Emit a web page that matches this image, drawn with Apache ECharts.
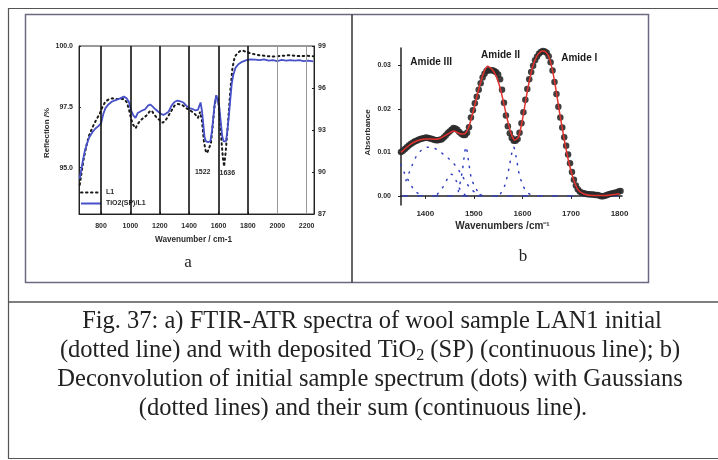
<!DOCTYPE html>
<html><head><meta charset="utf-8">
<script src="https://cdn.jsdelivr.net/npm/echarts@6/dist/echarts.min.js"></script>
<style>html,body{margin:0;padding:0;background:#fff}#c{width:718px;height:460px}</style>
</head><body><div id="c"></div>
<script>
// ---- panel a: FTIR-ATR reflection spectra (wavenumber, reflection %) ----
const aL1 = [[655,94.3],[665,94.7],[680,95.3],[700,95.9],[720,96.35],[745,96.7],[770,97.0],[790,97.2],[810,97.5],[830,97.72],[850,97.8],[875,97.85],[900,97.82],[930,97.83],[955,97.82],[975,97.7],[990,97.4],[1005,97.0],[1020,96.75],[1035,96.62],[1050,96.8],[1070,96.95],[1090,97.05],[1110,97.15],[1130,97.3],[1145,97.35],[1160,97.2],[1180,97.05],[1200,96.95],[1220,96.85],[1240,96.95],[1260,97.15],[1280,97.35],[1300,97.55],[1320,97.62],[1340,97.6],[1360,97.55],[1380,97.45],[1400,97.38],[1420,97.3],[1440,97.2],[1460,97.05],[1475,97.3],[1488,96.9],[1500,96.1],[1512,95.7],[1522,95.6],[1535,95.65],[1548,96.0],[1560,96.7],[1572,97.5],[1585,97.95],[1598,97.8],[1610,97.0],[1620,96.1],[1630,95.4],[1638,95.05],[1648,95.6],[1660,96.5],[1670,97.3],[1682,98.3],[1695,99.1],[1710,99.55],[1730,99.72],[1750,99.8],[1770,99.8],[1790,99.75],[1820,99.7],[1850,99.65],[1880,99.62],[1910,99.6],[1940,99.58],[1970,99.57],[2000,99.58],[2040,99.6],[2080,99.62],[2120,99.6],[2160,99.58],[2200,99.6],[2245,99.58]];
const aTiO2 = [[655,94.55],[665,94.9],[675,95.25],[690,95.7],[705,96.0],[720,96.25],[740,96.45],[760,96.6],[780,96.7],[800,96.82],[815,97.2],[830,97.45],[850,97.6],[875,97.72],[900,97.78],[930,97.85],[955,97.92],[975,97.85],[990,97.7],[1005,97.35],[1020,97.15],[1035,97.05],[1050,97.25],[1065,97.3],[1080,97.35],[1100,97.4],[1120,97.55],[1135,97.6],[1150,97.52],[1170,97.4],[1190,97.3],[1210,97.2],[1225,97.17],[1240,97.22],[1260,97.3],[1280,97.55],[1300,97.7],[1320,97.76],[1340,97.73],[1360,97.68],[1380,97.55],[1400,97.45],[1420,97.42],[1440,97.36],[1460,97.38],[1470,97.55],[1478,97.68],[1488,97.3],[1496,96.8],[1505,96.25],[1515,96.08],[1530,96.05],[1545,96.1],[1555,96.5],[1565,97.1],[1575,97.7],[1585,97.98],[1595,97.9],[1605,97.5],[1615,96.9],[1625,96.3],[1635,96.08],[1650,96.08],[1660,96.5],[1670,97.1],[1680,97.8],[1690,98.45],[1700,98.8],[1715,99.1],[1735,99.25],[1760,99.35],[1790,99.42],[1820,99.45],[1850,99.44],[1880,99.42],[1910,99.45],[1940,99.4],[1970,99.42],[2000,99.38],[2030,99.43],[2060,99.4],[2090,99.42],[2120,99.4],[2150,99.42],[2180,99.38],[2210,99.4],[2245,99.37]];
const aXTicks = [800,1000,1200,1400,1600,1800,2000,2200];
const aLeftTicks = [95.0,97.5,100.0];
// peak annotations: [label anchor wavenumber, label anchor reflection, text]
const aPeaks = [[1492,94.83,'1522'],[1660,94.78,'1636']];

// ---- panel b: deconvolution of the amide region (wavenumber, absorbance) ----
const bSpectrum = [[1350,0.0101],[1354,0.0104],[1358,0.0108],[1362,0.0112],[1366,0.0116],[1370,0.0119],[1374,0.0122],[1378,0.0125],[1382,0.0127],[1386,0.0129],[1390,0.0131],[1394,0.0132],[1398,0.0133],[1402,0.0134],[1406,0.0133],[1410,0.0132],[1414,0.0131],[1418,0.0129],[1422,0.0128],[1426,0.0128],[1430,0.0129],[1434,0.0130],[1438,0.0134],[1442,0.0139],[1446,0.0144],[1450,0.0148],[1454,0.0152],[1458,0.0156],[1462,0.0155],[1466,0.0152],[1470,0.0147],[1474,0.0143],[1478,0.0140],[1482,0.0140],[1486,0.0145],[1490,0.0158],[1494,0.0180],[1498,0.0197],[1502,0.0213],[1506,0.0228],[1510,0.0244],[1514,0.0259],[1518,0.0272],[1522,0.0281],[1526,0.0287],[1530,0.0289],[1534,0.0289],[1538,0.0289],[1542,0.0287],[1546,0.0284],[1550,0.0279],[1554,0.0268],[1558,0.0244],[1562,0.0214],[1566,0.0185],[1570,0.0160],[1574,0.0144],[1578,0.0133],[1582,0.0127],[1586,0.0127],[1590,0.0131],[1594,0.0145],[1598,0.0167],[1602,0.0192],[1606,0.0221],[1610,0.0246],[1614,0.0268],[1618,0.0285],[1622,0.0299],[1626,0.0312],[1630,0.0320],[1634,0.0327],[1638,0.0331],[1642,0.0333],[1646,0.0332],[1650,0.0329],[1654,0.0321],[1658,0.0307],[1662,0.0288],[1666,0.0262],[1670,0.0234],[1674,0.0205],[1678,0.0180],[1682,0.0157],[1686,0.0135],[1690,0.0115],[1694,0.0095],[1698,0.0075],[1702,0.0055],[1706,0.0037],[1710,0.0024],[1714,0.0015],[1718,0.0010],[1722,0.0007],[1726,0.0006],[1730,0.0005],[1734,0.0004],[1738,0.0004],[1742,0.0003],[1746,0.0003],[1750,0.0002],[1754,0.0002],[1758,0.0001],[1762,-0.0001],[1766,-0.0001],[1770,0.0000],[1774,0.0002],[1778,0.0004],[1782,0.0005],[1786,0.0006],[1790,0.0007],[1794,0.0008],[1798,0.0010],[1802,0.0011]];
const bSum = [[1350,0.0100],[1360,0.0110],[1370,0.0119],[1380,0.0125],[1390,0.0129],[1400,0.0131],[1410,0.0131],[1420,0.0130],[1430,0.0132],[1440,0.0138],[1450,0.0145],[1458,0.0149],[1466,0.0146],[1474,0.0142],[1482,0.0143],[1490,0.0160],[1500,0.0200],[1510,0.0245],[1520,0.0282],[1528,0.0298],[1536,0.0293],[1546,0.0275],[1556,0.0240],[1566,0.0190],[1576,0.0145],[1584,0.0128],[1592,0.0135],[1600,0.0175],[1610,0.0240],[1620,0.0293],[1630,0.0322],[1640,0.0333],[1648,0.0331],[1656,0.0315],[1666,0.0265],[1676,0.0195],[1686,0.0130],[1696,0.0075],[1706,0.0035],[1716,0.0012],[1730,0.0003],[1750,0.0001],[1770,0.0001],[1800,0.0005]];
const bGauss1 = [[1350,0.0072],[1356,0.0055],[1363,0.0040],[1372,0.0022],[1382,0.0008],[1395,0.0001]];
const bGauss2 = [[1360,0.0035],[1370,0.0062],[1380,0.0088],[1392,0.0105],[1405,0.0112],[1418,0.0110],[1432,0.0100],[1446,0.0088],[1457,0.0076],[1466,0.0064],[1477,0.0044],[1491,0.0020],[1505,0.0006],[1520,0.0001]];
const bGauss3 = [[1425,0.0004],[1435,0.0018],[1446,0.0040],[1453,0.0050],[1458,0.0047],[1464,0.0034],[1472,0.0014],[1482,0.0002]];
const bGauss4 = [[1468,0.0010],[1476,0.0055],[1484,0.0113],[1489,0.0080],[1495,0.0040],[1505,0.0015],[1515,0.0003]];
const bGauss5 = [[1555,0.0005],[1564,0.0025],[1572,0.0062],[1578,0.0098],[1582,0.0112],[1587,0.0090],[1593,0.0052],[1601,0.0024],[1610,0.0008],[1620,0.0001]];
const bBaseline = [[1352,0],[1800,0]];
const bXTicks = [1400,1500,1600,1700,1800];
const bYTicks = [0.00,0.01,0.02,0.03];
const bBands = [[1412,0.0307,'Amide III'],[1555,0.0323,'Amide II'],[1717,0.0316,'Amide I']];

const SANS = '"Liberation Sans", Arial, sans-serif';
const SERIF = '"Liberation Serif", "Times New Roman", serif';
const INK = '#2b2b2b';
const tick7 = {fontSize: 7, fontWeight: 'bold', color: INK, fontFamily: SANS};
const tick8 = {fontSize: 8, fontWeight: 'bold', color: INK, fontFamily: SANS};
const plain = v => String(v);

const chart = echarts.init(document.getElementById('c'), null, {renderer: 'canvas'});

const gaussSeries = [bGauss1, bGauss2, bGauss3, bGauss4, bGauss5].map(g => ({
  type: 'line', xAxisIndex: 1, yAxisIndex: 2, data: g, showSymbol: false, symbol: 'none',
  smooth: 0.3, silent: true, z: 2,
  lineStyle: {color: '#2f3fc0', width: 1.5, type: [1.2, 7], cap: 'round'}
}));

chart.setOption({
  animation: false,
  backgroundColor: '#fff',
  textStyle: {fontFamily: SANS},
  grid: [
    {left: 79, top: 46, width: 235, height: 168, show: true, borderColor: '#333', borderWidth: 1, containLabel: false},
    {left: 401, top: 48, width: 221, height: 157, containLabel: false}
  ],
  legend: {
    left: 80, top: 189, orient: 'vertical', itemWidth: 20, itemHeight: 8, itemGap: 4, padding: 0,
    data: ['L1', 'TiO2(SP)/L1'], textStyle: tick7, selectedMode: false,
    itemStyle: {opacity: 0}
  },
  xAxis: [
    {type: 'value', gridIndex: 0, min: 650, max: 2250,
     name: 'Wavenumber / cm-1', nameLocation: 'middle', nameGap: 22,
     nameTextStyle: {fontSize: 8.2, fontWeight: 'bold', color: INK, padding: [0, 6, 0, 0]},
     axisLine: {lineStyle: {color: '#222', width: 1}},
     axisTick: {show: true, inside: true, length: 2, customValues: aXTicks, lineStyle: {color: '#222'}},
     axisLabel: {customValues: aXTicks, margin: 9, formatter: plain, ...tick7},
     splitLine: {show: false}},
    {type: 'value', gridIndex: 1, min: 1350, max: 1805,
     name: 'Wavenumbers /cm⁻¹', nameLocation: 'middle', nameGap: 16,
     nameTextStyle: {fontSize: 10, fontWeight: 'bold', color: INK, padding: [0, 18, 0, 0]},
     axisLine: {lineStyle: {color: '#222', width: 1.5}},
     axisTick: {show: true, length: 3, customValues: bXTicks, lineStyle: {color: '#222'}},
     axisLabel: {customValues: bXTicks, margin: 5, formatter: plain, ...tick8},
     splitLine: {show: false}}
  ],
  yAxis: [
    {type: 'value', gridIndex: 0, min: 93.1, max: 100,
     name: 'Reflection /%', nameLocation: 'middle', nameGap: 28,
     nameTextStyle: {fontSize: 8, fontWeight: 'bold', color: INK, padding: [0, 6, 0, 0]},
     axisLine: {show: true, lineStyle: {color: '#222', width: 1}},
     axisTick: {show: true, inside: true, length: 2, customValues: aLeftTicks},
     axisLabel: {customValues: aLeftTicks, margin: 6, formatter: v => v.toFixed(1), ...tick7},
     splitLine: {show: false}},
    {type: 'value', gridIndex: 0, position: 'right', min: 87, max: 99, interval: 3,
     axisLine: {show: true, lineStyle: {color: '#222', width: 1}},
     axisTick: {show: true, inside: true, length: 2},
     axisLabel: {margin: 4, ...tick7},
     splitLine: {show: false}},
    {type: 'value', gridIndex: 1, min: -0.0021, max: 0.034,
     name: 'Absorbance', nameLocation: 'middle', nameGap: 29,
     nameTextStyle: {fontSize: 8, fontWeight: 'bold', color: INK, padding: [0, 12, 0, 0]},
     axisLine: {show: true, lineStyle: {color: '#222', width: 1.5}},
     axisTick: {show: true, length: 3, customValues: bYTicks},
     axisLabel: {customValues: bYTicks, margin: 10, formatter: v => v.toFixed(2), ...tick7},
     splitLine: {show: false}}
  ],
  series: [
    // vertical guide lines of panel a
    {type: 'line', xAxisIndex: 0, yAxisIndex: 0, data: [], silent: true, z: 1,
     markLine: {silent: true, symbol: 'none', label: {show: false},
       data: aXTicks.map(v => ({xAxis: v, lineStyle: v >= 2000 ? {color: '#999', width: 1, type: 'solid'} : {color: '#111', width: 1.6, type: 'solid'}}))}},
    {name: 'L1', type: 'line', xAxisIndex: 0, yAxisIndex: 0, data: aL1, symbol: 'none', showSymbol: false, z: 3,
     lineStyle: {color: '#1a1a1a', width: 2, type: [1.5, 3.5], cap: 'round'},
     itemStyle: {color: '#1a1a1a'},
     markPoint: {symbol: 'circle', symbolSize: 0,
       label: {show: true, position: 'inside', fontSize: 7, fontWeight: 'bold', color: INK, formatter: p => p.name},
       data: aPeaks.map(([x, y, t]) => ({name: t, coord: [x, y]}))}},
    {name: 'TiO2(SP)/L1', type: 'line', xAxisIndex: 0, yAxisIndex: 0, data: aTiO2, symbol: 'none', showSymbol: false, z: 4,
     lineStyle: {color: '#4650c8', width: 1.8}, itemStyle: {color: '#4650c8'}},

    ...gaussSeries,
    {type: 'line', xAxisIndex: 1, yAxisIndex: 2, data: bBaseline, symbol: 'none', silent: true, z: 2,
     lineStyle: {color: '#2f3fc0', width: 1.4, type: [6, 9]}},
    {type: 'scatter', xAxisIndex: 1, yAxisIndex: 2, data: bSpectrum, symbol: 'circle', symbolSize: 6.5, z: 3,
     itemStyle: {color: '#2a2a2a', opacity: 0.9}},
    {type: 'line', xAxisIndex: 1, yAxisIndex: 2, data: bSum, symbol: 'none', smooth: 0.2, z: 4,
     lineStyle: {color: '#e0332f', width: 1.5},
     markPoint: {symbol: 'circle', symbolSize: 0,
       label: {show: true, position: 'inside', fontSize: 10, fontWeight: 'bold', color: '#1a1a1a', formatter: p => p.name},
       data: bBands.map(([x, y, t]) => ({name: t, coord: [x, y]}))}}
  ],
  graphic: [
    {type: 'rect', silent: true, z: -10, shape: {x: 8.5, y: 8.5, width: 720, height: 450}, style: {fill: 'none', stroke: '#555', lineWidth: 1.2}},
    {type: 'rect', silent: true, z: -10, shape: {x: 25.5, y: 14.5, width: 623, height: 268}, style: {fill: 'none', stroke: '#6a6a80', lineWidth: 1.5}},
    {type: 'line', silent: true, z: -10, shape: {x1: 352, y1: 14.5, x2: 352, y2: 282.5}, style: {stroke: '#333', lineWidth: 1.5}},
    {type: 'line', silent: true, z: -10, shape: {x1: 8, y1: 302, x2: 718, y2: 302}, style: {stroke: '#555', lineWidth: 1.5}},
    {type: 'text', silent: true, x: 188, y: 263, style: {text: 'a', fontSize: 17, fontFamily: SERIF, fill: '#222', align: 'center', verticalAlign: 'middle'}},
    {type: 'text', silent: true, x: 523, y: 257, style: {text: 'b', fontSize: 17, fontFamily: SERIF, fill: '#222', align: 'center', verticalAlign: 'middle'}},
    {type: 'text', silent: true, x: 372, y: 322, style: {text: 'Fig. 37: a) FTIR-ATR spectra of wool sample LAN1 initial', fontSize: 24.5, fontFamily: SERIF, fill: '#222', align: 'center', verticalAlign: 'middle'}},
    {type: 'text', silent: true, x: 370, y: 351, style: {text: '(dotted line) and with deposited TiO{sub|2} (SP) (continuous line); b)', fontSize: 24.5, fontFamily: SERIF, fill: '#222', align: 'center', verticalAlign: 'middle',
      rich: {sub: {fontSize: 16, fontFamily: SERIF, fill: '#222', verticalAlign: 'bottom', lineHeight: 16, padding: [9, 0, 0, 0]}}}},
    {type: 'text', silent: true, x: 370, y: 380, style: {text: 'Deconvolution of initial sample spectrum (dots) with Gaussians', fontSize: 24.5, fontFamily: SERIF, fill: '#222', align: 'center', verticalAlign: 'middle'}},
    {type: 'text', silent: true, x: 363, y: 409, style: {text: '(dotted lines) and their sum (continuous line).', fontSize: 24.5, fontFamily: SERIF, fill: '#222', align: 'center', verticalAlign: 'middle'}}
  ]
});
</script></body></html>
